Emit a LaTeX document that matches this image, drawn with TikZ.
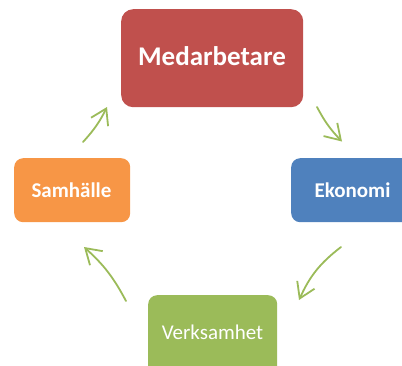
\documentclass[tikz,border=0pt]{standalone}
\usepackage{fontspec}
\setmainfont{Carlito}
\usetikzlibrary{arrows.meta}
\definecolor{cred}{HTML}{C0504D}
\definecolor{cblue}{HTML}{4F81BD}
\definecolor{corange}{HTML}{F79646}
\definecolor{cgreen}{HTML}{9BBB59}
\tikzset{
  box/.style={fill=#1, draw=none, text=white, inner sep=0pt, anchor=north west},
  cyc/.style={draw=cgreen, line width=1.8pt, line cap=round,
    -{Straight Barb[length=15pt, width=19pt, line width=1.8pt]}}
}
\begin{document}
\begin{tikzpicture}[x=1pt, y=-1pt]
\useasboundingbox (0,0) rectangle (402,365);
\clip (0,0) rectangle (402,365);
\node[box=cred, rounded corners=12pt, minimum width=182pt, minimum height=98pt] (med) at (121,9) {};
\node[font=\bfseries\fontsize{27}{30}\selectfont, text=white] (medt) at (212,56) {Medarbetare};
\node[box=cblue, rounded corners=9pt, minimum width=130pt, minimum height=64pt] (eko) at (291,158) {};
\node[font=\bfseries\fontsize{21}{24}\selectfont, text=white] (ekot) at (352.5,190) {Ekonomi};
\node[box=corange, rounded corners=9pt, minimum width=116pt, minimum height=64pt] (sam) at (14,158) {};
\node[font=\bfseries\fontsize{21}{24}\selectfont, text=white] (samt) at (71.5,190) {Samhälle};
\node[box=cgreen, rounded corners=9pt, minimum width=129pt, minimum height=90pt] (ver) at (148,295) {};
\node[font=\fontsize{21}{24}\selectfont, text=white] (vert) at (212.5,332) {Verksamhet};
\coordinate (a1s) at (83,142);
\coordinate (a1e) at (107,107);
\coordinate (a2s) at (317,107);
\coordinate (a2e) at (342,141.5);
\coordinate (a3s) at (341,247);
\coordinate (a3e) at (299,300);
\coordinate (a4s) at (126,301);
\coordinate (a4e) at (84,247);
\draw[cyc] (a1s) to[bend right=8] (a1e);
\draw[cyc] (a2s) to[bend right=8] (a2e);
\draw[cyc] (a3s) to[bend right=14] (a3e);
\draw[cyc] (a4s) to[bend right=10] (a4e);
\end{tikzpicture}
\end{document}
